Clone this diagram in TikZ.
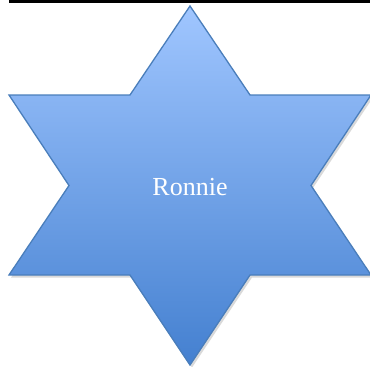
\documentclass[tikz,border=0pt]{standalone}
\usepackage{fontspec}
\setmainfont{Liberation Serif}
\begin{document}
\begin{tikzpicture}[x=1pt,y=-1pt,
  starfill/.style={top color=starTop,bottom color=starBottom,draw=starEdge,line width=1.3pt,line join=miter},
  starshadow/.style={fill=black,opacity=0.15},
  label/.style={text=white,font=\fontsize{26}{30}\selectfont}]
\definecolor{starTop}{RGB}{160,198,255}
\definecolor{starBottom}{RGB}{68,128,208}
\definecolor{starEdge}{RGB}{74,126,187}
\useasboundingbox (0,0) rectangle (370,367);
\fill[black] (9,0) rectangle (370,2.5);
\fill[starshadow] (192,8.5) -- (252,97.5) -- (373,97.5) -- (313,188) -- (373,277.5) -- (252,277.5) -- (192,367.5) -- (132,277.5) -- (11,277.5) -- (71,188) -- (11,97.5) -- (132,97.5) -- cycle;
\draw[starfill] (190,6) -- (250,95) -- (371,95) -- (311,185.5) -- (371,275) -- (250,275) -- (190,365) -- (130,275) -- (9,275) -- (69,185.5) -- (9,95) -- (130,95) -- cycle;
\node[label] (name) at (190,187) {Ronnie};
\end{tikzpicture}
\end{document}
